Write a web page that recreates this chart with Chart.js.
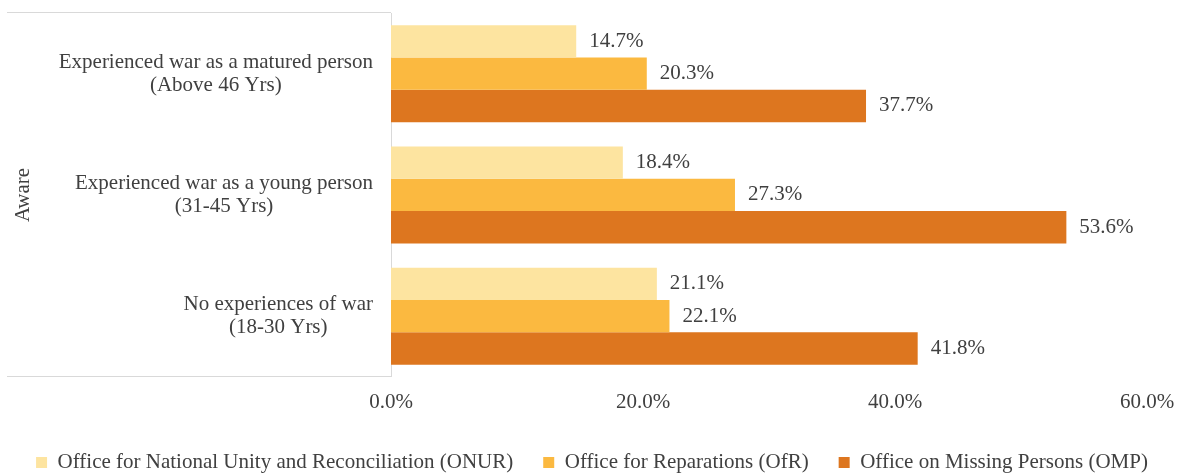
<!DOCTYPE html>
<html>
<head>
<meta charset="utf-8">
<script src="https://cdn.jsdelivr.net/npm/chart.js@4.4.1/dist/chart.umd.min.js"></script>
<style>
  html, body { margin: 0; padding: 0; background: #fff; }
  #wrap { width: 1184px; height: 473px; }
</style>
</head>
<body>
<div id="wrap"><canvas id="awareChart"></canvas></div>
<script>
// age groups (two-line category labels)
const groups = [
  ['Experienced war as a matured person', '(Above 46 Yrs)'],
  ['Experienced war as a young person', '(31-45 Yrs)'],
  ['No experiences of war', '(18-30 Yrs)']
];
const seriesNames = [
  'Office for National Unity and Reconciliation (ONUR)',
  'Office for Reparations (OfR)',
  'Office on Missing Persons (OMP)'
];
const onur = [14.7, 18.4, 21.1];
const ofr = [20.3, 27.3, 22.1];
const omp = [37.7, 53.6, 41.8];
const xTicks = [0, 20, 40, 60];
const colors = ['#fde4a0', '#fbb940', '#dd761f'];

const serif = "'Liberation Serif', 'Times New Roman', serif";
const textColor = '#404040';
const lineColor = '#d9d9d9';
const fontPx = 21;

// category labels: right-aligned blocks, lines centred inside each block
const groupLabels = {
  id: 'groupLabels',
  afterDraw(chart) {
    const { ctx, chartArea, scales: { y } } = chart;
    ctx.save();
    ctx.font = fontPx + 'px ' + serif;
    ctx.fillStyle = textColor;
    ctx.textAlign = 'center';
    ctx.textBaseline = 'middle';
    const right = chartArea.left - 18;
    groups.forEach((lines, i) => {
      const yc = y.getPixelForTick(i);
      const w = Math.max(...lines.map(l => ctx.measureText(l).width));
      const cx = right - w / 2;
      lines.forEach((l, j) => {
        ctx.fillText(l, cx, yc + (j - (lines.length - 1) / 2) * 23);
      });
    });
    ctx.restore();
  }
};

// percentage at the end of each bar
const valueLabels = {
  id: 'valueLabels',
  afterDatasetsDraw(chart) {
    const { ctx } = chart;
    ctx.save();
    ctx.font = fontPx + 'px ' + serif;
    ctx.fillStyle = textColor;
    ctx.textAlign = 'left';
    ctx.textBaseline = 'middle';
    chart.data.datasets.forEach((ds, i) => {
      chart.getDatasetMeta(i).data.forEach((bar, j) => {
        ctx.fillText(ds.data[j].toFixed(1) + '%', bar.x + 13, bar.y);
      });
    });
    ctx.restore();
  }
};

const ctx = document.getElementById('awareChart');

new Chart(ctx, {
  type: 'bar',
  data: {
    labels: groups.map(g => g.join(' ')),
    datasets: [
      { label: seriesNames[0], data: onur, backgroundColor: colors[0] },
      { label: seriesNames[1], data: ofr, backgroundColor: colors[1] },
      { label: seriesNames[2], data: omp, backgroundColor: colors[2] }
    ]
  },
  options: {
    indexAxis: 'y',
    responsive: true,
    maintainAspectRatio: false,
    animation: false,
    layout: { padding: { top: 13, bottom: -10 } },
    datasets: { bar: { categoryPercentage: 0.8, barPercentage: 1 } },
    scales: {
      x: {
        min: 0,
        max: 60,
        afterBuildTicks: s => { s.ticks = xTicks.map(v => ({ value: v })); },
        grid: { display: false },
        border: { display: false },
        ticks: {
          padding: 5,
          color: textColor,
          font: { family: serif, size: fontPx },
          callback: v => v.toFixed(1) + '%'
        },
        afterFit: s => { s.paddingRight = 37; s.height += 2; }
      },
      y: {
        grid: {
          drawOnChartArea: false,
          tickLength: 384,
          color: c => (c.type === 'scale' || c.index === 0) ? lineColor : 'rgba(0,0,0,0)'
        },
        border: { display: true, color: lineColor },
        ticks: { display: false },
        title: {
          display: true,
          text: 'Aware',
          color: textColor,
          font: { family: serif, size: fontPx },
          padding: { top: 11 }
        },
        afterFit: s => { s.width = 391; }
      }
    },
    plugins: {
      legend: {
        position: 'bottom',
        labels: {
          boxWidth: 11,
          boxHeight: 11,
          padding: 30,
          color: textColor,
          font: { family: serif, size: fontPx }
        }
      },
      tooltip: { enabled: false }
    }
  },
  plugins: [groupLabels, valueLabels]
});
</script>
</body>
</html>
